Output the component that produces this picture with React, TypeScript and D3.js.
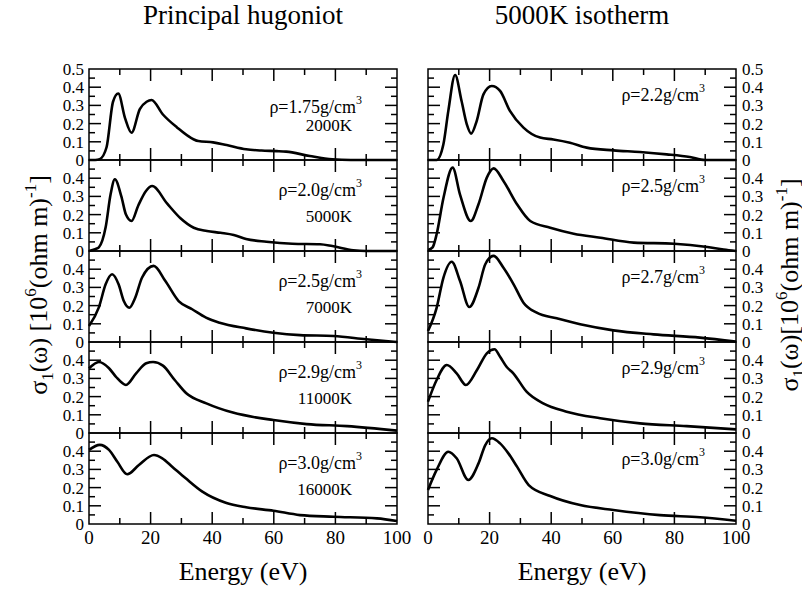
import React, { useEffect, useRef } from 'react';
import * as d3 from 'd3';

// energy grid (eV) and conductivity (10^6 (ohm m)^-1)
const hugE1 = [0, 2, 3.5, 5.7, 7.8, 9.5, 11.7, 13.8, 16.5, 18.7, 20.3, 24, 28.5, 33.9, 35.5, 40.3, 44.7, 51, 56, 61, 64, 71.7, 79, 85, 100];
const hugV1 = [0, 0, 0.005, 0.07, 0.32, 0.365, 0.23, 0.15, 0.28, 0.32, 0.33, 0.25, 0.18, 0.114, 0.104, 0.097, 0.082, 0.059, 0.052, 0.049, 0.046, 0.022, 0.004, 0, 0];

const hugE2 = [0, 2, 3.2, 5.4, 7, 8.4, 10.5, 12, 13.8, 16, 18.5, 20.5, 25.4, 29.7, 34, 38.3, 42.7, 47, 51, 57.6, 66, 75, 79, 85.8, 90, 100];
const hugV2 = [0, 0.01, 0.02, 0.13, 0.31, 0.394, 0.3, 0.2, 0.165, 0.25, 0.33, 0.357, 0.26, 0.18, 0.128, 0.11, 0.1, 0.088, 0.066, 0.051, 0.04, 0.037, 0.027, 0.004, 0, 0];

const hugE3 = [0, 3.2, 5.4, 7.5, 9.6, 11.3, 13.1, 15, 17.2, 21, 24.8, 29.1, 33.5, 38, 42.4, 51, 59.9, 68.5, 79.4, 90, 100];
const hugV3 = [0.088, 0.19, 0.317, 0.372, 0.317, 0.225, 0.188, 0.243, 0.353, 0.418, 0.335, 0.225, 0.18, 0.134, 0.106, 0.075, 0.051, 0.038, 0.033, 0.015, 0];

const hugE4 = [0, 3.2, 6.5, 8.7, 12, 15.3, 18.6, 20.8, 24, 27.9, 31.6, 38.1, 46.7, 59.9, 70.7, 83.8, 100];
const hugV4 = [0.355, 0.39, 0.356, 0.31, 0.264, 0.328, 0.383, 0.39, 0.37, 0.29, 0.218, 0.163, 0.112, 0.071, 0.049, 0.038, 0.013];

const hugE5 = [0, 3.5, 6.5, 9.2, 12.4, 16.2, 21.1, 23.8, 27, 31.4, 36.8, 44.4, 51, 59.9, 68.5, 79.4, 93.5, 100];
const hugV5 = [0.407, 0.435, 0.407, 0.342, 0.273, 0.324, 0.379, 0.361, 0.315, 0.251, 0.178, 0.117, 0.092, 0.073, 0.049, 0.04, 0.031, 0.016];

const isoE1 = [0, 2.8, 5, 6.6, 8.8, 10.9, 12.6, 14, 15.8, 18, 20.7, 23.4, 26.6, 31, 36.4, 40.7, 46.1, 51.5, 60.2, 68.8, 77.5, 85, 89.9, 100];
const isoV1 = [0, 0, 0.086, 0.27, 0.467, 0.324, 0.196, 0.145, 0.214, 0.361, 0.407, 0.38, 0.27, 0.178, 0.123, 0.113, 0.095, 0.068, 0.053, 0.044, 0.031, 0.016, 0, 0];

const isoE2 = [0, 1.5, 2.8, 5, 8, 10.4, 13.9, 16.4, 19.1, 21.3, 24.5, 28.9, 33.2, 39.7, 47.3, 56, 66.8, 79.9, 90.7, 96, 100];
const isoV2 = [0.005, 0.02, 0.092, 0.29, 0.458, 0.31, 0.165, 0.257, 0.403, 0.454, 0.385, 0.257, 0.165, 0.128, 0.095, 0.073, 0.046, 0.04, 0.022, 0.008, 0];

const isoE3 = [0, 2.8, 5, 7.7, 10.4, 13.4, 16.4, 18.6, 21.3, 24.5, 27.8, 31, 35.3, 41.8, 49.4, 60.2, 73.2, 88.3, 100];
const isoV3 = [0.06, 0.188, 0.353, 0.441, 0.335, 0.192, 0.298, 0.427, 0.473, 0.408, 0.317, 0.216, 0.161, 0.13, 0.097, 0.064, 0.042, 0.024, 0.002];

const isoE4 = [0, 2.8, 6.1, 9.3, 12.3, 15.9, 19.1, 21.6, 23.4, 25.5, 27.7, 32, 37.4, 45, 55.9, 68.8, 84, 100];
const isoV4 = [0.172, 0.291, 0.374, 0.328, 0.264, 0.346, 0.438, 0.46, 0.419, 0.364, 0.328, 0.227, 0.163, 0.117, 0.081, 0.053, 0.038, 0.02];

const isoE5 = [0, 2.8, 6.6, 9.3, 13.1, 16.4, 18.6, 20.7, 23.4, 26.1, 28.9, 32.7, 39.7, 49.4, 60.2, 75.3, 88.3, 100];
const isoV5 = [0.187, 0.297, 0.397, 0.361, 0.242, 0.333, 0.434, 0.471, 0.443, 0.388, 0.315, 0.214, 0.154, 0.104, 0.077, 0.049, 0.037, 0.018];

const hugDensity = ['1.75', '2.0', '2.5', '2.9', '3.0'];
const hugTemp = ['2000K', '5000K', '7000K', '11000K', '16000K'];
const isoDensity = ['2.2', '2.5', '2.7', '2.9', '3.0'];

const xTicks = [0, 20, 40, 60, 80, 100];
const yTicks = [0, 0.1, 0.2, 0.3, 0.4, 0.5];

const hugE = [hugE1, hugE2, hugE3, hugE4, hugE5];
const hugV = [hugV1, hugV2, hugV3, hugV4, hugV5];
const isoE = [isoE1, isoE2, isoE3, isoE4, isoE5];
const isoV = [isoV1, isoV2, isoV3, isoV4, isoV5];

const W = 802;
const H = 593;
const FONT = "'Liberation Serif', 'Times New Roman', Times, serif";

const App = () => {
  const ref = useRef<SVGSVGElement>(null);

  useEffect(() => {
    const svg = d3.select(ref.current);
    svg.selectAll('*').remove();
    const root = svg.append('g').attr('font-family', FONT);

    const rows = d3.scaleBand<number>().domain(d3.range(5)).range([69, 524]);
    const xLeft = d3.scaleLinear().domain([0, 100]).range([89, 397]);
    const xRight = d3.scaleLinear().domain([0, 100]).range([428, 736]);

    const drawPanel = (col: number, row: number, es: number[], vs: number[]) => {
      const x = col === 0 ? xLeft : xRight;
      const top = rows(row)!;
      const bottom = top + rows.bandwidth();
      const y = d3.scaleLinear().domain([0, 0.5]).range([bottom, top]);
      const g = root.append('g');

      // curve
      const pts: [number, number][] = es.map((e, i) => [e, vs[i]]);
      const line = d3.line<[number, number]>()
        .x(d => x(d[0]))
        .y(d => y(d[1]))
        .curve(d3.curveMonotoneX);
      g.append('path')
        .attr('d', line(pts))
        .attr('fill', 'none')
        .attr('stroke', '#000')
        .attr('stroke-width', 2.6)
        .attr('stroke-linejoin', 'round');

      // inward ticks on all four sides
      const [x0, x1] = x.range();
      d3.range(10, 100, 10).forEach(v => {
        const len = v % 20 === 0 ? 12 : 6;
        g.append('line').attr('x1', x(v)).attr('x2', x(v)).attr('y1', bottom).attr('y2', bottom - len);
        g.append('line').attr('x1', x(v)).attr('x2', x(v)).attr('y1', top).attr('y2', top + len);
      });
      d3.range(1, 10).forEach(k => {
        const v = k * 0.05;
        const len = k % 2 === 0 ? 12 : 6;
        g.append('line').attr('x1', x0).attr('x2', x0 + len).attr('y1', y(v)).attr('y2', y(v));
        g.append('line').attr('x1', x1).attr('x2', x1 - len).attr('y1', y(v)).attr('y2', y(v));
      });
      g.selectAll('line').attr('stroke', '#000').attr('stroke-width', 1.5);

      g.append('rect')
        .attr('x', x0).attr('y', top)
        .attr('width', x1 - x0).attr('height', bottom - top)
        .attr('fill', 'none').attr('stroke', '#000').attr('stroke-width', 1.5);

      // y tick labels
      const labels = row === 0 ? yTicks : yTicks.slice(0, 5);
      labels.forEach(v => {
        g.append('text')
          .attr('x', col === 0 ? x0 - 5 : x1 + 6)
          .attr('y', y(v) + 6)
          .attr('text-anchor', col === 0 ? 'end' : 'start')
          .attr('font-size', 17)
          .text(v === 0 ? '0' : d3.format('.1f')(v));
      });

      // x tick labels on the bottom row
      if (row === 4) {
        xTicks.forEach(v => {
          g.append('text')
            .attr('x', x(v)).attr('y', bottom + 20)
            .attr('text-anchor', 'middle')
            .attr('font-size', 19)
            .text(v);
        });
      }

      // panel annotation
      const dens = col === 0 ? hugDensity[row] : isoDensity[row];
      const t = g.append('text')
        .attr('x', col === 0 ? 362 : 705)
        .attr('y', top + (col === 0 ? (row === 0 ? 44 : 36) : 32))
        .attr('text-anchor', 'end')
        .attr('font-size', 18);
      t.append('tspan').text(`ρ=${dens}g/cm`);
      t.append('tspan').attr('dy', -9).attr('font-size', 12).text('3');
      if (col === 0) {
        g.append('text')
          .attr('x', 352).attr('y', top + 62)
          .attr('text-anchor', 'end')
          .attr('font-size', 17)
          .text(hugTemp[row]);
      }
    };

    for (let r = 0; r < 5; r++) {
      drawPanel(0, r, hugE[r], hugV[r]);
      drawPanel(1, r, isoE[r], isoV[r]);
    }

    // titles
    root.append('text').attr('x', 243).attr('y', 24).attr('text-anchor', 'middle')
      .attr('font-size', 27).text('Principal hugoniot');
    root.append('text').attr('x', 582).attr('y', 24).attr('text-anchor', 'middle')
      .attr('font-size', 27).text('5000K isotherm');

    root.append('text').attr('x', 243).attr('y', 580).attr('text-anchor', 'middle')
      .attr('font-size', 26).text('Energy (eV)');
    root.append('text').attr('x', 582).attr('y', 580).attr('text-anchor', 'middle')
      .attr('font-size', 26).text('Energy (eV)');

    // y axis labels
    const yLabel = (cx: number, gap: string) => {
      const t = root.append('text')
        .attr('transform', `translate(${cx},285) rotate(-90)`)
        .attr('text-anchor', 'middle')
        .attr('font-size', 26);
      t.append('tspan').text('σ');
      t.append('tspan').attr('dy', 6).attr('font-size', 17).text('1');
      t.append('tspan').attr('dy', -6).text(`(ω)${gap}[10`);
      t.append('tspan').attr('dy', -11).attr('font-size', 17).text('6');
      t.append('tspan').attr('dy', 11).text('(ohm m)');
      t.append('tspan').attr('dy', -11).attr('font-size', 17).text('-1');
      t.append('tspan').attr('dy', 11).text(']');
    };
    yLabel(47, ' ');
    yLabel(798, '');
  }, []);

  return (
    <svg
      ref={ref}
      width={W}
      height={H}
      style={{ position: 'absolute', left: 0, top: 0, background: '#fff' }}
    />
  );
};

export default App;
